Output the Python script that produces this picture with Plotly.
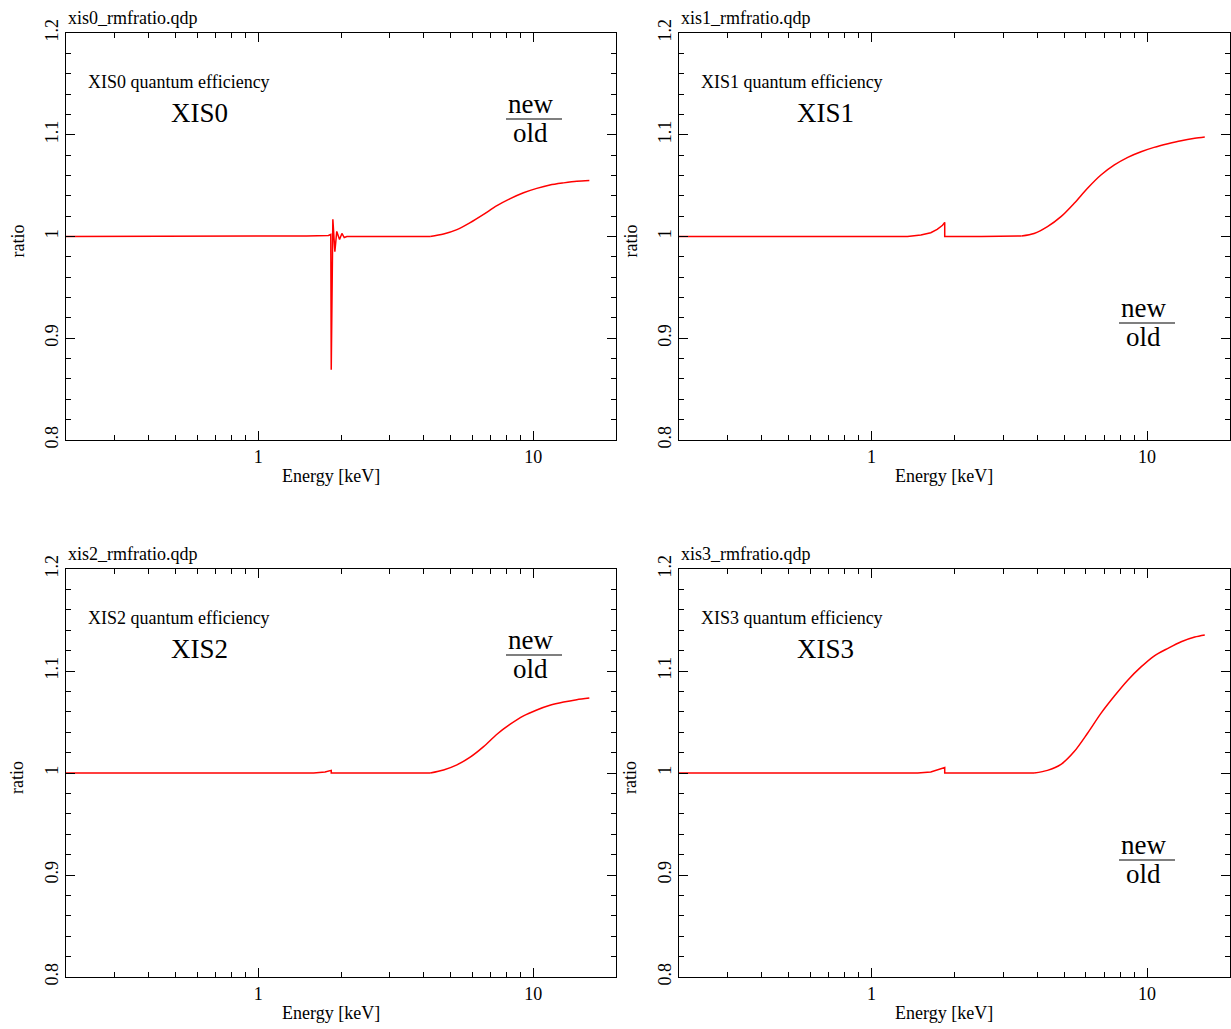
import plotly.graph_objects as go

# ---------------- data ----------------
xis0_energy = [0.2, 0.5, 1.0, 1.5, 1.80, 1.836, 1.843, 1.868, 1.90, 1.93, 1.976, 2.015, 2.055, 2.10,
               3.0, 4.22, 4.72, 5.28, 5.90, 6.60, 7.38, 8.25, 9.22, 10.3, 11.5, 12.9, 14.4, 16.0]
xis0_ratio = [1.0, 1.0, 1.0, 1.0005, 1.001, 1.002, 0.869, 1.017, 0.985, 1.005, 0.997, 1.003, 0.999, 1.0,
              1.0, 1.0, 1.0025, 1.0068, 1.0137, 1.0218, 1.0303, 1.0372, 1.043, 1.0473, 1.0506, 1.0527, 1.0543, 1.055]

xis1_energy = [0.2, 0.5, 1.0, 1.35, 1.51, 1.64, 1.73, 1.81, 1.843, 1.8431, 2.5, 3.5, 3.89, 4.35, 4.87, 5.44,
               6.08, 6.80, 7.61, 8.51, 9.51, 10.6, 11.9, 13.3, 14.9, 16.2]
xis1_ratio = [1.0, 1.0, 1.0, 1.0, 1.0015, 1.0037, 1.007, 1.011, 1.0139, 1.0, 1.0, 1.0005, 1.003, 1.0097, 1.0195,
              1.0327, 1.0474, 1.0604, 1.0703, 1.0778, 1.0833, 1.0876, 1.0912, 1.0942, 1.0965, 1.0978]

xis2_energy = [0.2, 0.5, 1.0, 1.59, 1.75, 1.843, 1.8431, 3.0, 4.22, 4.72, 5.28, 5.90, 6.60, 7.38, 8.25, 9.22,
               10.3, 11.5, 12.9, 14.4, 16.0]
xis2_ratio = [1.0, 1.0, 1.0, 1.0, 1.001, 1.0026, 1.0, 1.0, 1.0, 1.003, 1.008, 1.0155, 1.0258, 1.038, 1.0478,
              1.056, 1.0618, 1.0664, 1.0696, 1.0719, 1.0735]

xis3_energy = [0.2, 0.5, 1.0, 1.47, 1.64, 1.76, 1.843, 1.8431, 3.0, 3.89, 4.35, 4.87, 5.44, 6.08, 6.80, 7.61,
               8.51, 9.51, 10.6, 11.9, 13.3, 14.9, 16.2]
xis3_ratio = [1.0, 1.0, 1.0, 1.0, 1.001, 1.0034, 1.0054, 1.0, 1.0, 1.0, 1.0026, 1.0085, 1.021, 1.039, 1.0585,
              1.0755, 1.091, 1.104, 1.1147, 1.1222, 1.1287, 1.1333, 1.1353]

# energy (keV) where each smooth high-energy rise begins
rise_start = [4.22, 3.5, 4.22, 3.89]

panel_names = ["XIS0", "XIS1", "XIS2", "XIS3"]
file_titles = ["xis0_rmfratio.qdp", "xis1_rmfratio.qdp", "xis2_rmfratio.qdp", "xis3_rmfratio.qdp"]
x_major = [1, 10]
x_major_text = ["1", "10"]
x_minor = [0.2, 0.3, 0.4, 0.5, 0.6, 0.7, 0.8, 0.9, 2, 3, 4, 5, 6, 7, 8, 9, 20]
y_major = [0.8, 0.9, 1.0, 1.1, 1.2]
y_major_text = ["0.8", "0.9", "1", "1.1", "1.2"]

energies = [xis0_energy, xis1_energy, xis2_energy, xis3_energy]
ratios = [xis0_ratio, xis1_ratio, xis2_ratio, xis3_ratio]

# ---------------- layout ----------------
W, H = 1231, 1029
FONT = "Liberation Serif, Times New Roman, serif"

def px(x):
    return x / W

def py(y):
    return 1 - y / H

# panel pixel boxes: (left, right, top, bottom)
boxes = [(66, 616, 33, 440), (679, 1230, 33, 440), (66, 616, 569, 977), (679, 1230, 569, 977)]
# where "new/old" goes: (center x, line y)
frac_pos = [(530, 119), (1143, 323), (530, 655), (1143, 860)]
name_dx = [133, 147, 133, 147]

fig = go.Figure()
layout = dict(width=W, height=H, margin=dict(l=0, r=0, t=0, b=0), paper_bgcolor="white",
              plot_bgcolor="white", showlegend=False, hovermode=False,
              font=dict(family=FONT, size=18, color="black"))
annotations = []
shapes = []

for i in range(4):
    xa = "x" if i == 0 else f"x{i+1}"
    ya = "y" if i == 0 else f"y{i+1}"
    e, r_ = energies[i], ratios[i]
    lo = [k for k in range(len(e)) if e[k] <= rise_start[i]]
    hi = [k for k in range(len(e)) if e[k] >= rise_start[i]]
    fig.add_trace(go.Scatter(x=[e[k] for k in lo], y=[r_[k] for k in lo], mode="lines",
                             line=dict(color="#ff0000", width=1.5), xaxis=xa, yaxis=ya))
    fig.add_trace(go.Scatter(x=[e[k] for k in hi], y=[r_[k] for k in hi], mode="lines",
                             line=dict(color="#ff0000", width=1.5, shape="spline", smoothing=0.8),
                             xaxis=xa, yaxis=ya))
    l, r, t, b = boxes[i]
    xkey = "xaxis" if i == 0 else f"xaxis{i+1}"
    ykey = "yaxis" if i == 0 else f"yaxis{i+1}"
    layout[xkey] = dict(type="log", range=[-0.69897, 1.30103], domain=[px(l), px(r)], anchor=ya,
                        showgrid=False, zeroline=False, showline=True, linecolor="black", linewidth=1,
                        mirror="allticks", ticks="inside", ticklen=9, tickcolor="black",
                        tickmode="array", tickvals=x_major, ticktext=x_major_text,
                        tickfont=dict(family=FONT, size=18), automargin=False,
                        minor=dict(tickmode="array", tickvals=x_minor, ticks="inside", ticklen=5,
                                   tickcolor="black", showgrid=False))
    layout[ykey] = dict(range=[0.8, 1.2], domain=[py(b), py(t)], anchor=xa,
                        showgrid=False, zeroline=False, showline=True, linecolor="black", linewidth=1,
                        mirror="allticks", ticks="inside", ticklen=9, tickcolor="black",
                        tickmode="array", tickvals=y_major, ticktext=y_major_text, tickangle=-90,
                        tickfont=dict(family=FONT, size=18), automargin=False,
                        minor=dict(dtick=0.02, tick0=0.8, ticks="inside", ticklen=5,
                                   tickcolor="black", showgrid=False))

    annotations.append(dict(text=file_titles[i], x=px(l), y=py(t - 15), xref="paper", yref="paper",
                            xanchor="left", yanchor="middle", showarrow=False,
                            font=dict(family=FONT, size=18)))
    annotations.append(dict(text=f"{panel_names[i]} quantum efficiency", x=px(l + 20), y=py(t + 49),
                            xref="paper", yref="paper", xanchor="left", yanchor="middle",
                            showarrow=False, font=dict(family=FONT, size=18)))
    annotations.append(dict(text=panel_names[i], x=px(l + name_dx[i]), y=py(t + 80), xref="paper",
                            yref="paper", xanchor="center", yanchor="middle", showarrow=False,
                            font=dict(family=FONT, size=27)))
    annotations.append(dict(text="Energy [keV]", x=px(l + 265), y=py(b + 36), xref="paper",
                            yref="paper", xanchor="center", yanchor="middle", showarrow=False,
                            font=dict(family=FONT, size=18)))
    annotations.append(dict(text="ratio", x=px(l - 49), y=py((t + b) / 2 + 5), xref="paper",
                            yref="paper", xanchor="center", yanchor="middle", showarrow=False,
                            textangle=-90, font=dict(family=FONT, size=18)))
    cx, ly = frac_pos[i]
    annotations.append(dict(text="new", x=px(cx), y=py(ly - 15), xref="paper", yref="paper",
                            xanchor="center", yanchor="middle", showarrow=False,
                            font=dict(family=FONT, size=27)))
    annotations.append(dict(text="old", x=px(cx), y=py(ly + 14), xref="paper", yref="paper",
                            xanchor="center", yanchor="middle", showarrow=False,
                            font=dict(family=FONT, size=27)))
    shapes.append(dict(type="line", xref="paper", yref="paper", x0=px(cx - 24), x1=px(cx + 32),
                       y0=py(ly), y1=py(ly), line=dict(color="black", width=1.2)))

layout["annotations"] = annotations
layout["shapes"] = shapes
fig.update_layout(**layout)
fig.write_html("out.html", config={"displayModeBar": False, "staticPlot": True})

# remove the browser's default page margin so the figure sits at the window origin
with open("out.html", "r", encoding="utf-8") as f:
    html = f.read()
html = html.replace("<body>", '<body style="margin:0;padding:0;overflow:hidden">', 1)
with open("out.html", "w", encoding="utf-8") as f:
    f.write(html)
